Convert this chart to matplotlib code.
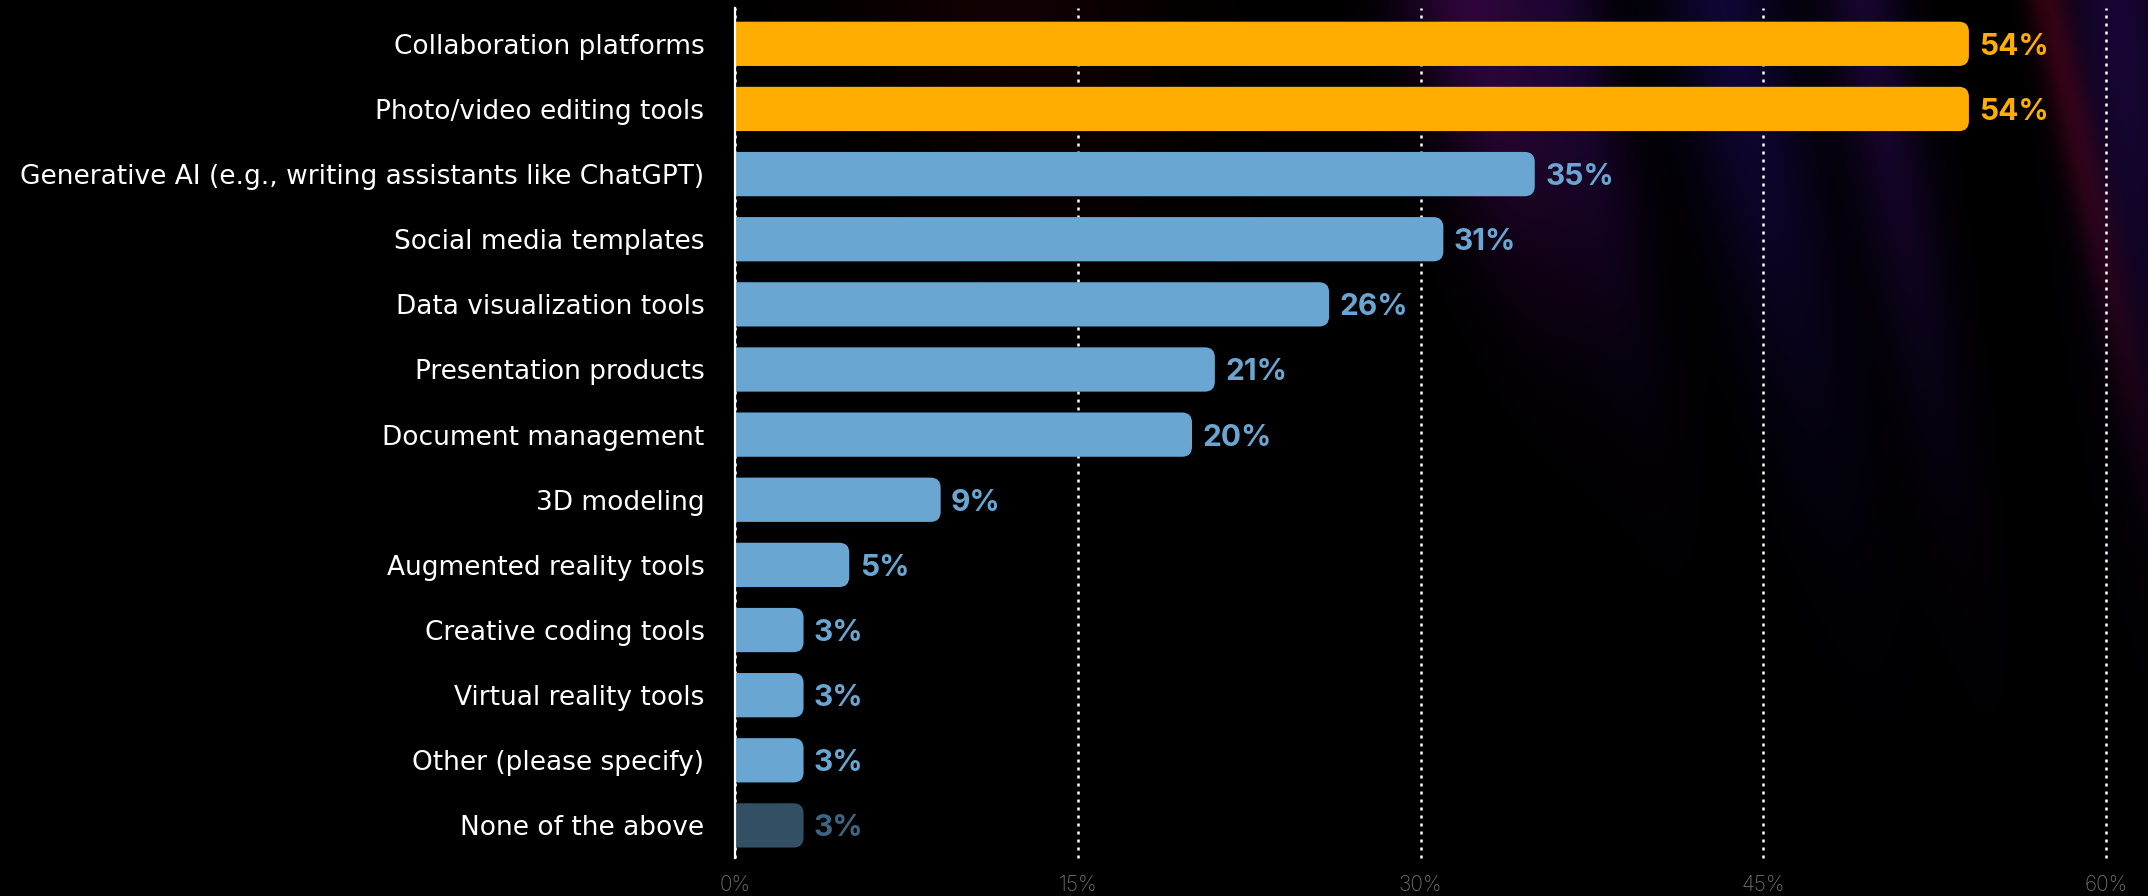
import numpy as np
import matplotlib
matplotlib.use("Agg")
import matplotlib.pyplot as plt
from matplotlib.patches import FancyBboxPatch

# Survey responses: share of respondents using each tool type
categories = [
    "Collaboration platforms",
    "Photo/video editing tools",
    "Generative AI (e.g., writing assistants like ChatGPT)",
    "Social media templates",
    "Data visualization tools",
    "Presentation products",
    "Document management",
    "3D modeling",
    "Augmented reality tools",
    "Creative coding tools",
    "Virtual reality tools",
    "Other (please specify)",
    "None of the above",
]
values = [54, 54, 35, 31, 26, 21, 20, 9, 5, 3, 3, 3, 3]
xticks = [0, 15, 30, 45, 60]
xtick_labels = ["0%", "15%", "30%", "45%", "60%"]

ORANGE = "#FFAE00"
BLUE = "#69A6D2"
DARK = "#324F64"
bar_colors = [ORANGE] * 2 + [BLUE] * 10 + [DARK]
text_colors = [ORANGE] * 2 + [BLUE] * 10 + ["#3C6684"]

W, H, DPI = 2148, 896, 100
fig = plt.figure(figsize=(W / DPI, H / DPI), dpi=DPI, facecolor="black")

# ---- dark backdrop with faint light streaks in the upper right ----
bg = fig.add_axes([0, 0, 1, 1], zorder=-10)
bg.set_axis_off()
h, w = 224, 537
yy, xx = np.mgrid[0:h, 0:w]
px = xx * (W / w)
py = yy * (H / h)
img = np.zeros((h, w, 3))
streaks = [
    # x at top, drift per px down, width, rgb, strength, depth
    (1000, 0.35, 160, (0.30, 0.00, 0.05), 0.22, 220),
    (1470, 0.25, 70, (0.32, 0.04, 0.42), 0.55, 260),
    (1560, 0.20, 45, (0.20, 0.04, 0.40), 0.35, 330),
    (1720, 0.22, 60, (0.14, 0.05, 0.45), 0.45, 400),
    (1860, 0.18, 40, (0.22, 0.05, 0.45), 0.40, 400),
    (2045, 0.22, 20, (0.45, 0.02, 0.08), 0.40, 380),
    (2115, 0.10, 55, (0.20, 0.05, 0.45), 0.45, 420),
]
for x0, drift, width, rgb, amp, depth in streaks:
    xc = x0 + drift * py
    a = amp * np.exp(-((px - xc) / width) ** 2) * np.exp(-(py / depth) ** 2)
    for c in range(3):
        img[..., c] += a * rgb[c]
img = np.clip(img, 0, 1)
bg.imshow(img, extent=[0, W, H, 0], aspect="auto", interpolation="bilinear")
bg.set_xlim(0, W)
bg.set_ylim(H, 0)

# ---- bar chart ----
ax = fig.add_axes([735 / W, 1 - 858 / H, (2106 - 735) / W, (858 - 8) / H])
ax.patch.set_alpha(0)
ypos = np.arange(len(categories))
bar_h = 0.68
bars = ax.barh(ypos, values, height=bar_h, color=bar_colors, zorder=3)

# swap plain rectangles for right-rounded bars (left rounding is clipped at x=0)
ax.set_xlim(0, 60)
ax.set_ylim(len(categories) - 0.5, -0.55)
x_px = (2106 - 735) / 60.0
y_px = (858 - 8) / (len(categories) - 0.5 + 0.55)
r = 10 / x_px
for rect in bars:
    x, y = rect.get_x(), rect.get_y()
    bw, bh = rect.get_width(), rect.get_height()
    rounded = FancyBboxPatch(
        (x - r * 1.5, y), bw + r * 1.5, bh,
        boxstyle=f"round,pad=0,rounding_size={r}",
        mutation_aspect=x_px / y_px,
        facecolor=rect.get_facecolor(), edgecolor="none",
        zorder=3, clip_on=True,
    )
    ax.add_patch(rounded)
    rect.set_visible(False)

for yv, v, col in zip(ypos, values, text_colors):
    ax.annotate(f"{v}%", xy=(v, yv), xytext=(7.5, 0), textcoords="offset points",
                ha="left", va="center_baseline", color=col, fontsize=21.5,
                fontweight="bold", family="Inter", zorder=5, annotation_clip=False)

ax.set_yticks(ypos)
ax.set_yticklabels(categories, family="DejaVu Sans", fontsize=19, color="white")
ax.set_xticks(xticks)
ax.set_xticklabels(xtick_labels, family="Inter", fontweight="light",
                   fontsize=15, color="#6E6E6E")
ax.tick_params(axis="y", length=0, pad=22)
ax.tick_params(axis="x", length=0, pad=12)

ax.grid(axis="x", color="white", linestyle=(0, (1.2, 2.0)), linewidth=1.8, zorder=1)
ax.grid(axis="y", visible=False)
ax.set_axisbelow(True)
for gl in ax.get_xgridlines():
    gl.set_clip_on(False)
for side in ("top", "right", "bottom"):
    ax.spines[side].set_visible(False)
ax.spines["left"].set_color("white")
ax.spines["left"].set_linewidth(1.6)
ax.spines["left"].set_zorder(6)

fig.savefig("out.png", dpi=DPI, facecolor="black")
